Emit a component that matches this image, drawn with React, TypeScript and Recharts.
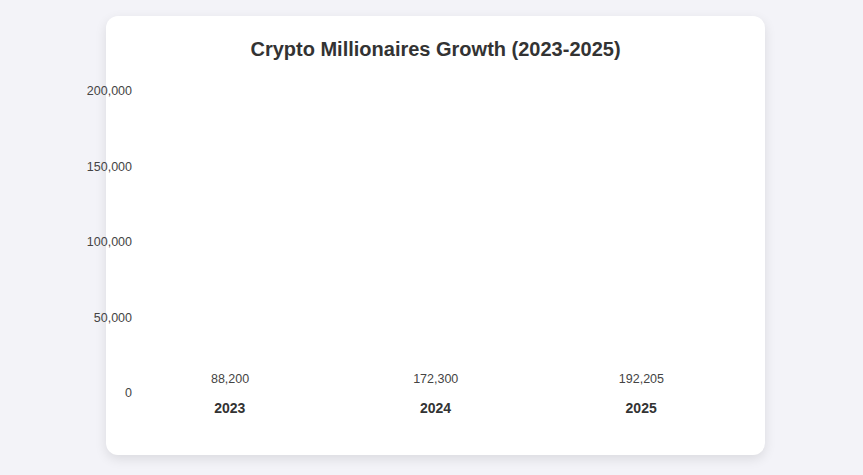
import React from "react";
import { BarChart, Bar, XAxis, YAxis, LabelList } from "recharts";

const years = ["2023", "2024", "2025"];
const millionaires = [88200, 172300, 192205];
const yTicks = [0, 50000, 100000, 150000, 200000];

const chartData = years.map((year, i) => ({ year, value: millionaires[i] }));

const fmt = (v: number) => Number(v).toLocaleString("en-US");

const font = "'Liberation Sans', Arial, Helvetica, sans-serif";

// the reference caught the bars before they grew, so they stay invisible
// and the value labels sit on the baseline
function BaseLabel(props: any) {
  const { x, y, width, height, value } = props;
  return (
    <text
      x={x + width / 2}
      y={y + height - 9}
      textAnchor="middle"
      fill="#444"
      fontSize={12.5}
      fontFamily={font}
    >
      {fmt(value)}
    </text>
  );
}

function YTick(props: any) {
  const { x, y, payload } = props;
  return (
    <text x={x + 13} y={y + 1} dy="0.355em" textAnchor="end" fill="#444" fontSize={12.5} fontFamily={font}>
      {fmt(payload.value)}
    </text>
  );
}

export default function App() {
  return (
    <div
      style={{
        position: "fixed",
        left: 0,
        top: 0,
        width: 863,
        height: 475,
        background: "#f3f3f8",
        fontFamily: font,
      }}
    >
      <div
        style={{
          position: "absolute",
          left: 106,
          top: 16,
          width: 659,
          height: 439,
          background: "#fff",
          borderRadius: 12,
          boxShadow: "0 4px 12px rgba(0,0,0,0.1)",
        }}
      />
      <div
        style={{
          position: "absolute",
          left: 106,
          width: 659,
          top: 38,
          textAlign: "center",
          fontSize: 20,
          fontWeight: "bold",
          color: "#333",
        }}
      >
        Crypto Millionaires Growth (2023-2025)
      </div>
      <div style={{ position: "absolute", left: 0, top: 0 }}>
        <BarChart
          width={863}
          height={475}
          data={chartData}
          margin={{ top: 90, right: 119, left: 67, bottom: 0 }}
        >
          <XAxis
            dataKey="year"
            axisLine={false}
            tickLine={false}
            height={83}
            tickMargin={5}
            tick={{ fill: "#333", fontSize: 14, fontWeight: "bold", fontFamily: font }}
          />
          <YAxis
            width={60}
            domain={[0, 200000]}
            ticks={yTicks}
            axisLine={false}
            tickLine={false}
            tick={<YTick />}
          />
          <Bar dataKey="value" fill="transparent" isAnimationActive={false}>
            <LabelList dataKey="value" content={<BaseLabel />} />
          </Bar>
        </BarChart>
      </div>
    </div>
  );
}
